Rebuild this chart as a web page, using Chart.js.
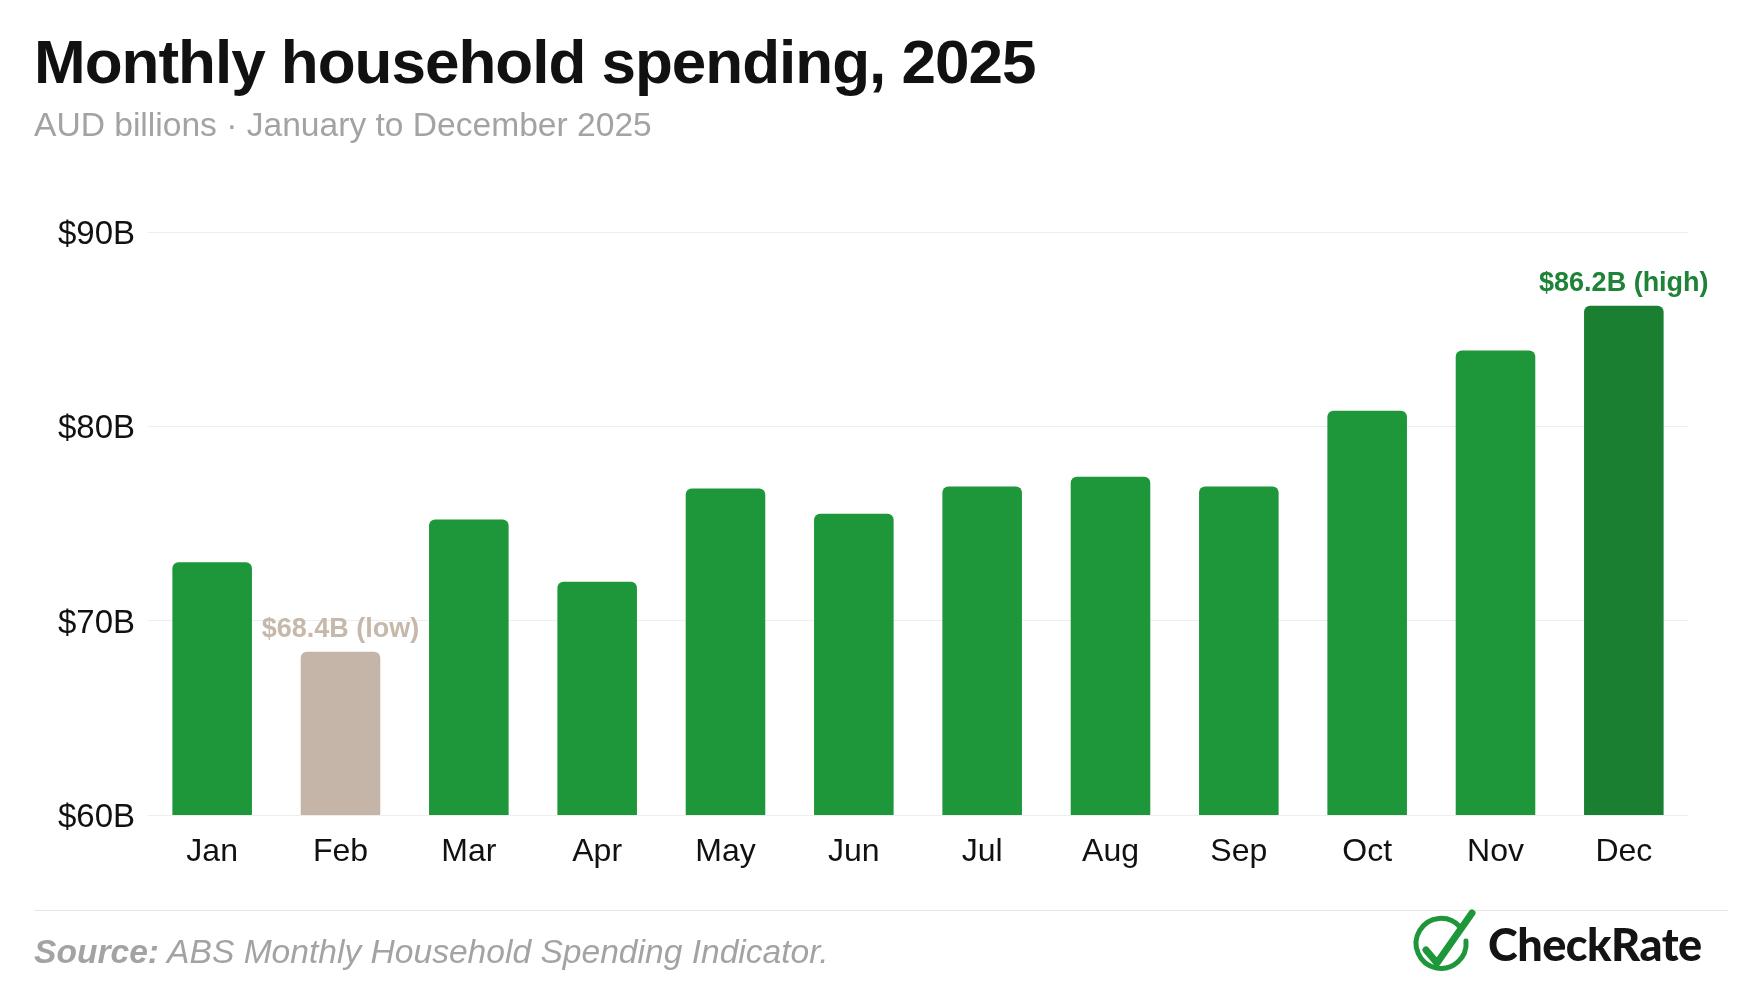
<!DOCTYPE html>
<html>
<head>
<meta charset="utf-8">
<script src="https://cdn.jsdelivr.net/npm/chart.js@4.4.1/dist/chart.umd.min.js"></script>
<style>
  html, body { margin:0; padding:0; background:#fff; }
  body { width:1760px; height:1000px; position:relative; overflow:hidden; font-family:"Liberation Sans", Arial, sans-serif; }
  #chart { position:absolute; left:0; top:0; }
  .txt { position:absolute; white-space:nowrap; line-height:1; }
  #title { left:34px; top:31px; font-size:62px; font-weight:bold; letter-spacing:-1px; color:#111; }
  #subtitle { left:34px; top:108px; font-size:33.6px; color:#a3a3a3; }
  #rule { position:absolute; left:34px; top:910px; width:1694px; height:1px; background:#e6e6e6; }
  #source { left:34px; top:935px; font-size:33.6px; font-style:italic; color:#a3a3a3; }
  #source b { font-weight:bold; }
  #logo { position:absolute; left:1405px; top:905px; }
  #brand { left:1488px; top:922px; font-family:Lato, "Open Sans", sans-serif; font-size:45px; font-weight:900; color:#141414; letter-spacing:-0.5px; }
</style>
</head>
<body>
<canvas id="chart" width="1760" height="1000"></canvas>
<div class="txt" id="title">Monthly household spending, 2025</div>
<div class="txt" id="subtitle">AUD billions · January to December 2025</div>
<div id="rule"></div>
<div class="txt" id="source"><b>Source:</b> ABS Monthly Household Spending Indicator.</div>
<svg id="logo" width="80" height="80" viewBox="0 0 80 80">
  <path d="M 55 22 A 25 25 0 1 0 61 36" fill="none" stroke="#1e963a" stroke-width="5" stroke-linecap="round"/>
  <polyline points="21,45 32,58 67,8" fill="none" stroke="#1e963a" stroke-width="7" stroke-linecap="round" stroke-linejoin="round"/>
</svg>
<div class="txt" id="brand">CheckRate</div>

<script>
// Data
const months = ["Jan","Feb","Mar","Apr","May","Jun","Jul","Aug","Sep","Oct","Nov","Dec"];
const spending = [73.0, 68.4, 75.2, 72.0, 76.8, 75.5, 76.9, 77.4, 76.9, 80.8, 83.9, 86.2];
const yMin = 60, yMax = 90, yStep = 10;

const GREEN = '#1e963a';
const GREEN_DARK = '#1a7f31';
const TAN = '#c4b5a8';

const iMax = spending.indexOf(Math.max(...spending));
const iMin = spending.indexOf(Math.min(...spending));

const barColors = spending.map((v, i) => i === iMax ? GREEN_DARK : (i === iMin ? TAN : GREEN));

// labels for high / low
const peakLabels = {
  id: 'peakLabels',
  afterDatasetsDraw(chart) {
    const ctx = chart.ctx;
    const meta = chart.getDatasetMeta(0);
    ctx.save();
    ctx.font = 'bold 27px "Liberation Sans", Arial, sans-serif';
    ctx.textAlign = 'center';
    ctx.textBaseline = 'alphabetic';
    [[iMax, 'high', '#1e8238'], [iMin, 'low', '#c6b8ab']].forEach(([i, tag, col]) => {
      const bar = meta.data[i];
      ctx.fillStyle = col;
      ctx.fillText('$' + spending[i].toFixed(1) + 'B (' + tag + ')', bar.x, bar.y - 15);
    });
    ctx.restore();
  }
};

new Chart(document.getElementById('chart'), {
  type: 'bar',
  data: {
    labels: months,
    datasets: [{
      data: spending,
      backgroundColor: barColors,
      borderRadius: 6,
      borderSkipped: 'start',
      barPercentage: 0.62,
      categoryPercentage: 1.0
    }]
  },
  options: {
    responsive: false,
    animation: false,
    layout: { padding: { top: 232, right: 72, bottom: 0, left: 0 } },
    plugins: { legend: { display: false }, tooltip: { enabled: false } },
    scales: {
      x: {
        grid: { display: false },
        border: { display: false },
        ticks: { color: '#111', font: { size: 32, family: '"Liberation Sans", Arial, sans-serif' }, padding: 10 },
        afterFit: s => { s.height = 185; }
      },
      y: {
        min: yMin, max: yMax,
        grid: { color: '#eeeeee', drawTicks: false, lineWidth: 1 },
        border: { display: false },
        ticks: {
          stepSize: yStep, padding: 13, color: '#111', labelOffset: 3,
          font: { size: 33, family: '"Liberation Sans", Arial, sans-serif' },
          callback: v => '$' + v + 'B'
        },
        afterFit: s => { s.width = 148; }
      }
    }
  },
  plugins: [peakLabels]
});
</script>
</body>
</html>
